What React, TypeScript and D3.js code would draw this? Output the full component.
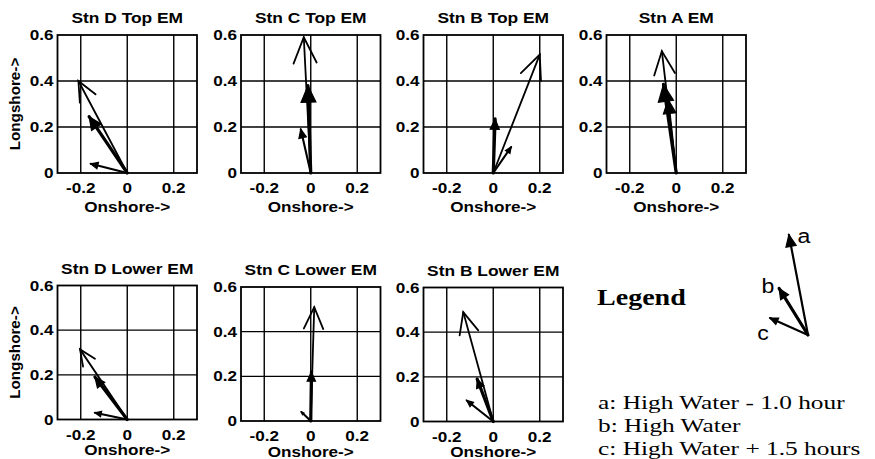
import React from "react";
import * as d3 from "d3";

// ---- data ----
const panelTitles = [
  "Stn D Top EM",
  "Stn C Top EM",
  "Stn B Top EM",
  "Stn A EM",
  "Stn D Lower EM",
  "Stn C Lower EM",
  "Stn B Lower EM",
];
// a: High Water - 1.0 hour
const onshoreA = [-0.21, -0.03, 0.2, -0.062, -0.203, 0.015, -0.129];
const longshoreA = [0.4, 0.59, 0.515, 0.53, 0.314, 0.51, 0.49];
// b: High Water
const onshoreB = [-0.164, -0.012, 0.008, -0.055, -0.139, 0.003, -0.069];
const longshoreB = [0.245, 0.38, 0.235, 0.385, 0.19, 0.22, 0.19];
// c: High Water + 1.5 hours
const onshoreC = [-0.157, -0.043, 0.077, -0.035, -0.139, -0.04, -0.114];
const longshoreC = [0.04, 0.19, 0.113, 0.32, 0.03, 0.04, 0.094];

const xTicks = [-0.2, 0, 0.2];
const yTicks = [0, 0.2, 0.4, 0.6];
const xTickLabels = ["-0.2", "0", "0.2"];
const yTickLabels = ["0", "0.2", "0.4", "0.6"];

// legend glyph vectors (in data units)
const legendKeys = ["a", "b", "c"];
const legendOnshore = [-0.082, -0.124, -0.163];
const legendLongshore = [0.43, 0.2, 0.073];
const legendLines = [
  "a: High Water - 1.0 hour",
  "b: High Water",
  "c: High Water + 1.5 hours",
];

// ---- layout ----
const colLeft = [57.5, 241, 423.5, 606.5];
const panelW = 139.5;
const rowTop = [35, 287];
const rowBottom = [173, 421];
const bottomRowShift = [-1.5, 0, 0.5];
const SX = 1.18;
const SANS = "'Liberation Sans', Arial, Helvetica, sans-serif";
const SERIF = "'Liberation Serif', 'Times New Roman', Times, serif";

const styles = [
  { w: 1.8, filled: false, hs: 1 },
  { w: 3.2, filled: true, hs: 1 },
  { w: 2.1, filled: true, hs: 1 },
];
const legendStyles = [
  { w: 2.2, filled: true, hs: 0.6 },
  { w: 3.2, filled: true, hs: 1 },
  { w: 2.1, filled: true, hs: 1 },
];

function T(props: any) {
  const { x, y, sx = SX, anchor = "middle", size = 14, weight = "bold", family = SANS, rotate = 0, children } = props;
  return (
    <text
      transform={`translate(${x},${y}) rotate(${rotate}) scale(${sx},1)`}
      textAnchor={anchor}
      fontSize={size}
      fontWeight={weight}
      fontFamily={family}
      fill="#000"
    >
      {children}
    </text>
  );
}

function Arrow({ x0, y0, x1, y1, s, k }: any) {
  const dx = x1 - x0;
  const dy = y1 - y0;
  const L = Math.hypot(dx, dy) || 1;
  const ux = dx / L;
  const uy = dy / L;
  const back = 0.19 * L * s.hs;
  const lat = 0.085 * L * s.hs;
  const bx = x1 - back * ux;
  const by = y1 - back * uy;
  const p1 = [bx - lat * uy, by + lat * ux];
  const p2 = [bx + lat * uy, by - lat * ux];
  const head = `M${p1[0]},${p1[1]}L${x1},${y1}L${p2[0]},${p2[1]}`;
  return (
    <g key={k}>
      <line x1={x0} y1={y0} x2={x1} y2={y1} stroke="#000" strokeWidth={s.w} strokeLinecap="round" />
      <path
        d={s.filled ? head + "Z" : head}
        fill={s.filled ? "#000" : "none"}
        stroke="#000"
        strokeWidth={s.filled ? 1.2 : s.w}
        strokeLinejoin="miter"
        strokeLinecap="round"
      />
    </g>
  );
}

function Panel({ i }: { i: number }) {
  const row = i < 4 ? 0 : 1;
  const col = i < 4 ? i : i - 4;
  const shift = row === 1 ? bottomRowShift[col] : 0;
  const left = colLeft[col];
  const top = rowTop[row] + shift;
  const bottom = rowBottom[row] + shift;
  const x = d3.scaleLinear().domain([-0.3, 0.3]).range([left, left + panelW]);
  const y = d3.scaleLinear().domain([0, 0.6]).range([bottom, top]);
  const vecs = [
    [onshoreA[i], longshoreA[i]],
    [onshoreB[i], longshoreB[i]],
    [onshoreC[i], longshoreC[i]],
  ];
  const cx = (left + left + panelW) / 2;
  return (
    <g>
      <T x={cx} y={top - 12} size={14.5} sx={1.2}>{panelTitles[i]}</T>
      {xTicks.map((t) => (
        <line key={"gx" + t} x1={x(t)} x2={x(t)} y1={top} y2={bottom} stroke="#000" strokeWidth={1.4} />
      ))}
      {yTicks.slice(1, 3).map((t) => (
        <line key={"gy" + t} x1={left} x2={left + panelW} y1={y(t)} y2={y(t)} stroke="#000" strokeWidth={1.4} />
      ))}
      <rect x={left} y={top} width={panelW} height={bottom - top} fill="none" stroke="#000" strokeWidth={1.8} />
      {xTicks.map((t, j) => (
        <T key={"xl" + t} x={x(t)} y={bottom + 20} size={14.5}>{xTickLabels[j]}</T>
      ))}
      {yTicks.map((t, j) => (
        <T key={"yl" + t} x={left - 4} y={y(t) + 5} anchor="end" size={14.5}>{yTickLabels[j]}</T>
      ))}
      <T x={cx} y={bottom + (row === 0 ? 39 : 35.5)} size={14.5}>Onshore-&gt;</T>
      {col === 0 && (
        <T x={20} y={(top + bottom) / 2} rotate={-90} sx={1.05} size={14.5}>Longshore-&gt;</T>
      )}
      {vecs.map((v, j) => (
        <Arrow key={j} k={j} x0={x(0)} y0={y(0)} x1={x(v[0])} y1={y(v[1])} s={styles[j]} />
      ))}
    </g>
  );
}

function Legend() {
  const ox = 808;
  const oy = 335;
  const sc = d3.scaleLinear().domain([0, 1]).range([0, 233]);
  const labelPos = [
    [804, 243],
    [768, 293],
    [763, 340],
  ];
  return (
    <g>
      <T x={597} y={305} anchor="start" size={23} family={SERIF} sx={1.22}>Legend</T>
      {legendKeys.map((k, j) => (
        <Arrow
          key={k}
          k={k}
          x0={ox}
          y0={oy}
          x1={ox + sc(legendOnshore[j])}
          y1={oy - sc(legendLongshore[j])}
          s={legendStyles[j]}
        />
      ))}
      {legendKeys.map((k, j) => (
        <T key={"lk" + k} x={labelPos[j][0]} y={labelPos[j][1]} size={21} weight="normal" sx={1.1}>{k}</T>
      ))}
      {legendLines.map((s, j) => (
        <T key={"ll" + j} x={598} y={409 + j * 23} anchor="start" size={19.5} weight="normal" family={SERIF} sx={1.3}>{s}</T>
      ))}
    </g>
  );
}

export default function App() {
  return (
    <svg
      width={875}
      height={459}
      viewBox="0 0 875 459"
      style={{ position: "absolute", left: 0, top: 0, background: "#fff" }}
    >
      <rect x={0} y={0} width={875} height={459} fill="#fff" />
      {panelTitles.map((_, i) => (
        <Panel key={i} i={i} />
      ))}
      <Legend />
    </svg>
  );
}
